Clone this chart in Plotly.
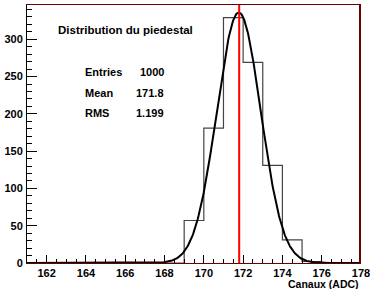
import numpy as np
import plotly.graph_objects as go

# Histogram data (bin lower edges, width 1)
bin_edges = [161, 162, 163, 164, 165, 166, 167, 168, 169, 170, 171, 172, 173, 174, 175, 176, 177, 178]
bin_counts = [0, 0, 0, 0, 0, 0, 0, 0, 57, 181, 329, 269, 131, 31, 2, 0, 0]

# Gaussian fit parameters
fit_constant = 336
fit_mean = 171.78
fit_sigma = 1.12

# Statistics box
title_text = "Distribution du piedestal"
stat_labels = ["Entries", "Mean", "RMS"]
stat_values = ["1000", "171.8", "1.199"]
mean_value = 171.8

x_title = "Canaux (ADC)"
x_range = [161, 178]
y_range = [0, 346]

FONT = "Liberation Sans, Arial, sans-serif"
DARKRED = "#6a0000"

fig = go.Figure()

# histogram outline as step line
step_y = bin_counts + [bin_counts[-1]]
fig.add_trace(go.Scatter(x=bin_edges, y=step_y, mode="lines",
                         line=dict(shape="hv", color="#444444", width=1.2),
                         hoverinfo="skip", showlegend=False))

# gaussian fit
xs = np.linspace(x_range[0], x_range[1], 600)
ys = fit_constant * np.exp(-0.5 * ((xs - fit_mean) / fit_sigma) ** 2)
fig.add_trace(go.Scatter(x=xs, y=ys, mode="lines",
                         line=dict(color="black", width=2),
                         hoverinfo="skip", showlegend=False))

# mean line
fig.add_trace(go.Scatter(x=[mean_value, mean_value], y=y_range, mode="lines",
                         line=dict(color="red", width=2),
                         hoverinfo="skip", showlegend=False))

# right frame edge
fig.add_shape(type="line", xref="paper", yref="paper", x0=0.997, x1=0.997, y0=0, y1=1,
              line=dict(color=DARKRED, width=2), layer="above")

tfont = dict(family=FONT, size=11, color="black", weight="bold")

fig.add_annotation(x=162.5, y=312, xref="x", yref="y", text=title_text,
                   showarrow=False, xanchor="left", yanchor="middle",
                   font=dict(family=FONT, size=11.5, color="black", weight="bold"))

stat_y = [256, 228, 201]
for lab, val, yy in zip(stat_labels, stat_values, stat_y):
    fig.add_annotation(x=163.87, y=yy, xref="x", yref="y", text=lab,
                       showarrow=False, xanchor="left", yanchor="middle", font=tfont)
    fig.add_annotation(x=168.07, y=yy, xref="x", yref="y", text=val,
                       showarrow=False, xanchor="right", yanchor="middle", font=tfont)

fig.add_annotation(x=1.0, y=-0.082, xref="paper", yref="paper", text=x_title,
                   showarrow=False, xanchor="right", yanchor="middle",
                   font=dict(family=FONT, size=10.5, color="black", weight="bold"))

fig.update_layout(
    width=370, height=289,
    margin=dict(l=27, r=9, t=5, b=26, autoexpand=False),
    paper_bgcolor="white", plot_bgcolor="white",
    showlegend=False,
    xaxis=dict(range=x_range, tick0=162, dtick=2, ticks="inside", ticklen=8,
               tickcolor="black", tickwidth=1, showgrid=False, zeroline=False,
               showline=True, linecolor=DARKRED, linewidth=1, mirror=True,
               tickfont=tfont, automargin=False, ticklabeloverflow="allow",
               ticklabelstandoff=0,
               minor=dict(ticks="inside", dtick=0.5, ticklen=4, tickcolor="black", showgrid=False)),
    yaxis=dict(range=y_range, tick0=0, dtick=50, ticks="inside", ticklen=10,
               tickcolor="black", tickwidth=1, showgrid=False, zeroline=False,
               showline=True, linecolor="black", linewidth=1,
               tickfont=tfont, ticklabelstandoff=1, automargin=False,
               ticklabeloverflow="allow",
               minor=dict(ticks="inside", dtick=10, ticklen=5, tickcolor="black", showgrid=False)),
)

fig.write_html("out.html",
               config={"displayModeBar": False, "staticPlot": True},
               post_script="document.body.style.margin='0';document.body.style.overflow='hidden';")
